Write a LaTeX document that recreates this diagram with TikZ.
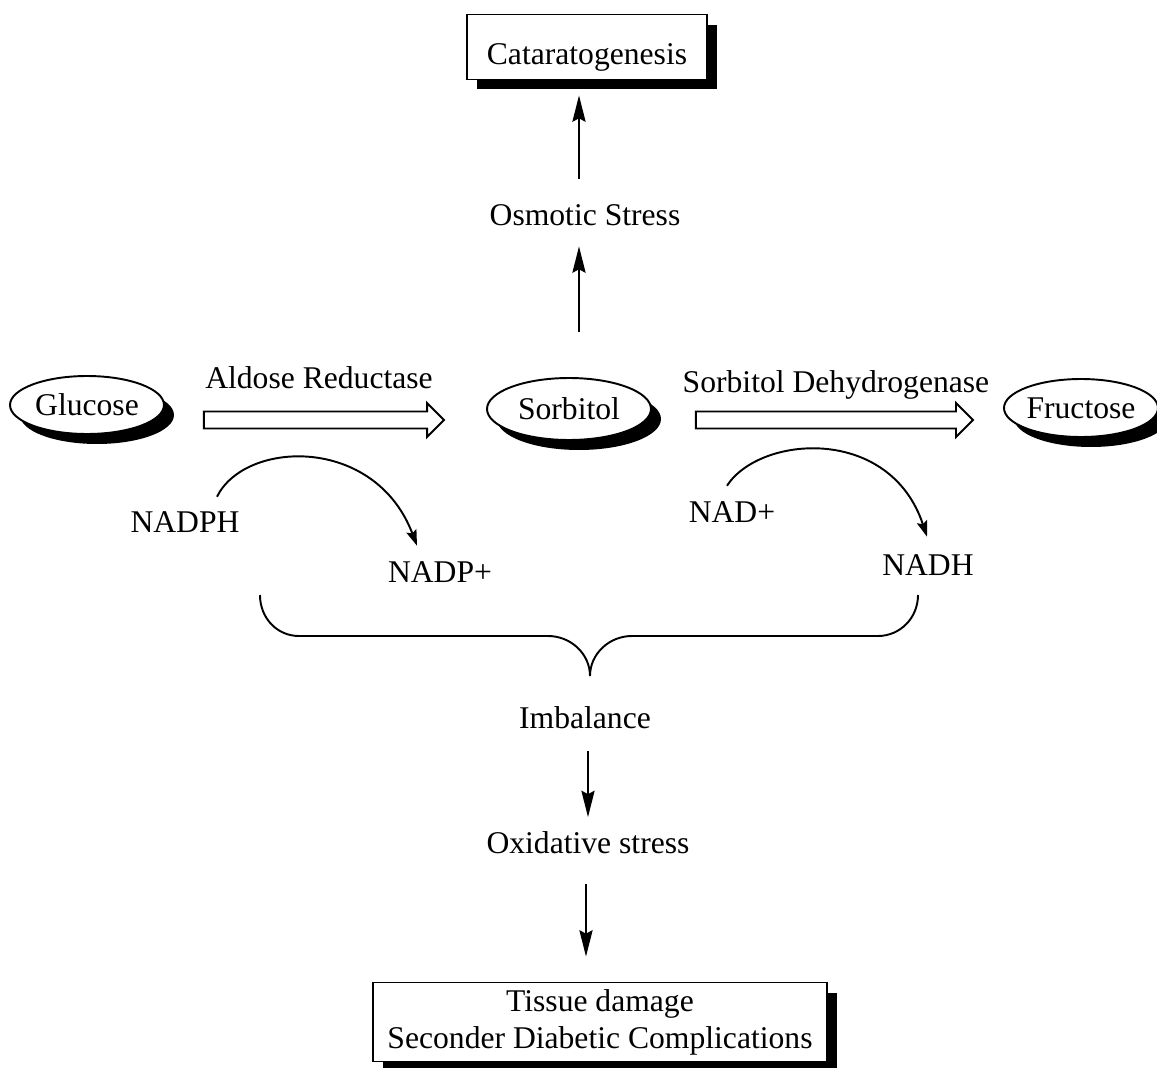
\documentclass[tikz,border=0pt]{standalone}
\usepackage{fontspec}
\setmainfont{Liberation Serif}
\usetikzlibrary{arrows.meta, positioning, shapes.geometric, shadows, calc}

\begin{document}
\begin{tikzpicture}[
      x=0.02cm, y=-0.02cm,
      line width=1.1pt,
      every node/.style={font=\fontsize{18}{21}\selectfont},
      ell/.style={draw, ellipse, fill=white, inner sep=0pt, minimum width=#1, minimum height=1.16cm,
                  drop shadow={shadow xshift=0.2cm, shadow yshift=-0.2cm, fill=black, opacity=1}},
      ell/.default=3.08cm,
      box/.style={draw, fill=white, align=center, inner sep=0pt,
                  drop shadow={shadow xshift=0.2cm, shadow yshift=-0.2cm, fill=black, opacity=1}},
      arr/.style={-{Stealth[length=15pt, width=7.5pt, inset=2pt]}},
      curv/.style={-{Stealth[length=9pt, width=6pt, inset=1.5pt]}},
      fatarrow/.style={to path={($(\tikztostart)+(0,-8.5)$) -- ($(\tikztotarget)+(-17,-8.5)$)
                  -- ($(\tikztotarget)+(-17,-17)$) -- (\tikztotarget) -- ($(\tikztotarget)+(-17,17)$)
                  -- ($(\tikztotarget)+(-17,8.5)$) -- ($(\tikztostart)+(0,8.5)$) -- cycle}}
  ]
    \useasboundingbox (0,0) rectangle (1157,1068);

    \node[ell]        (gluc) at (87,405)   {Glucose};
    \node[ell=3.28cm, minimum height=1.24cm] (sorb) at (569,409) {Sorbitol};
    \node[ell=2.92cm] (fruc) at (1081,408) {Fructose};

    \node[box, minimum width=4.8cm, minimum height=1.3cm] (cat) at (587,47)
          {\raisebox{-5.5pt}[13pt][4pt]{Cataratogenesis}};
    \node[box, minimum width=9.08cm, minimum height=1.58cm] (tissue) at (600,1022)
          {Tissue damage\\Seconder Diabetic Complications};

    \node (osm)   at (585,215) {Osmotic Stress};
    \node (ar)    at (319,378) {Aldose Reductase};
    \node (sdh)   at (836,385) {Sorbitol Dehydrogenase};
    \node (nadph) at (185,522) {NADPH};
    \node (nadpp) at (440,572) {NADP+};
    \node (nadp)  at (732,512) {NAD+};
    \node (nadh)  at (928,565) {NADH};
    \node (imb)   at (585,718) {Imbalance};
    \node (oxi)   at (588,843) {Oxidative stress};

    % hollow reaction arrows
    \coordinate (ar1s) at ($(gluc.east)+(39,15)$);
    \coordinate (ar1e) at ($(sorb.west)+(-42,11)$);
    \coordinate (ar2s) at ($(sorb.east)+(44,11)$);
    \coordinate (ar2e) at ($(fruc.west)+(-30,12)$);
    \draw[fatarrow] (ar1s) to (ar1e);
    \draw[fatarrow] (ar2s) to (ar2e);

    % vertical arrows
    \draw[arr, shorten <=0.9cm, shorten >=0.28cm] ([xshift=0.2cm]sorb.north) -- ([xshift=0.2cm]sorb.north |- osm.south);
    \draw[arr, shorten <=0.38cm, shorten >=0.3cm] ([xshift=-0.12cm]osm.north) -- ([xshift=-0.12cm]osm.north |- cat.south);
    \draw[arr, shorten <=0.3cm, shorten >=0.16cm] ([xshift=0.06cm]imb.south) -- ([xshift=0.06cm]imb.south |- oxi.north);
    \draw[arr, shorten <=0.46cm, shorten >=0.5cm] ([xshift=-0.04cm]oxi.south) -- ([xshift=-0.04cm]oxi.south |- tissue.north);

    % cofactor arcs
    \draw[curv] ($(nadph.north)+(32,-8)$) .. controls (245,440) and (375,435) .. ($(nadpp.north)+(-23,-9)$);
    \draw[curv] ($(nadp.north)+(-5,-9)$) .. controls (760,435) and (890,425) .. ($(nadh.north)+(-1,-11)$);

    % brace
    \draw (260,595) .. controls (260,618) and (277,636) .. (299,636) -- (548,636)
          .. controls (571,636) and (590,654) .. (590,676)
          .. controls (590,654) and (609,636) .. (632,636) -- (878,636)
          .. controls (900,636) and (918,618) .. (918,595);
  \end{tikzpicture}
\end{document}
